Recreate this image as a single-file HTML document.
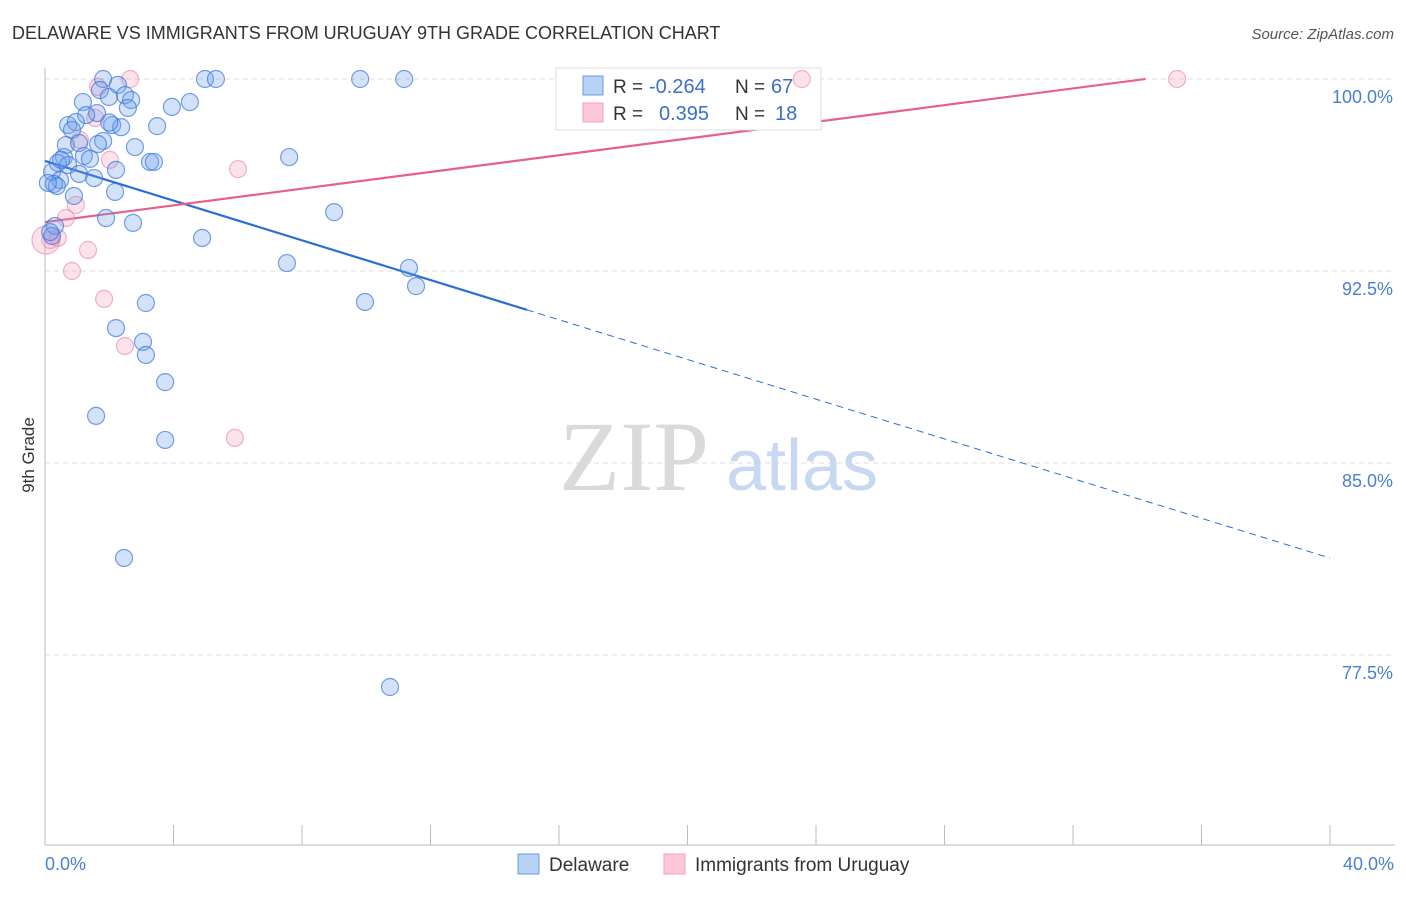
<!DOCTYPE html>
<html><head><meta charset="utf-8"><style>
body{margin:0;background:#fff;font-family:"Liberation Sans",sans-serif;}
svg text{font-family:"Liberation Sans",sans-serif;}
svg text.serif{font-family:"Liberation Serif",serif;}
</style></head><body>
<svg id="chart" width="1406" height="892" xmlns="http://www.w3.org/2000/svg">
<text x="12" y="39" font-size="18" fill="#333">DELAWARE VS IMMIGRANTS FROM URUGUAY 9TH GRADE CORRELATION CHART</text>
<text x="1394" y="39" font-size="15" fill="#555" font-style="italic" text-anchor="end">Source: ZipAtlas.com</text>
<g id="grid"></g>
<g><text class="serif" x="634" y="490" font-size="100" fill="#dadada" text-anchor="middle">ZIP</text><text x="802" y="490" font-size="72" fill="#c8d8f0" text-anchor="middle">atlas</text></g>
<g id="axes"></g>
<g id="lines"></g>
<g>
<rect x="556" y="68" width="265" height="62" fill="#fff" stroke="#ddd"/>
<rect x="583" y="76" width="20" height="19" fill="#b8d2f5" stroke="#6a9ae0"/>
<rect x="583" y="103" width="20" height="19" fill="#fcc8d8" stroke="#f0a0b8"/>
<text x="613" y="93" font-size="19" fill="#333">R =</text><text x="649" y="93" font-size="20" fill="#3a6fd0">-0.264</text>
<text x="735" y="93" font-size="19" fill="#333">N =</text><text x="771" y="93" font-size="20" fill="#3a6fd0">67</text>
<text x="613" y="120" font-size="19" fill="#333">R =</text><text x="659" y="120" font-size="20" fill="#3a6fd0">0.395</text>
<text x="735" y="120" font-size="19" fill="#333">N =</text><text x="775" y="120" font-size="20" fill="#3a6fd0">18</text>
</g>
<g id="points"></g>
<text transform="translate(34,455) rotate(-90)" font-size="17" fill="#333" text-anchor="middle">9th Grade</text>
<text x="45" y="870" font-size="18" fill="#4a7fd4">0.0%</text>
<text x="1394" y="870" font-size="18" fill="#4a7fd4" text-anchor="end">40.0%</text>
<g>
<rect x="518" y="854" width="21" height="20" fill="#b8d2f5" stroke="#6a9ae0"/>
<text x="549" y="871" font-size="19" fill="#333">Delaware</text>
<rect x="664" y="854" width="21" height="20" fill="#fcc8d8" stroke="#f0a0b8"/>
<text x="695" y="871" font-size="19" fill="#333">Immigrants from Uruguay</text>
</g>
</svg>
<script>
const yTicks=[100,92.5,85,77.5];
const yTickLabels=["100.0%","92.5%","85.0%","77.5%"];
const blueX=[1.81,2.27,4.98,5.32,9.81,11.18,1.71,2.49,2.68,1.18,4.51,3.95,2.58,1.62,1.28,0.72,0.96,2.09,2.37,3.49,0.84,1.81,0.65,1.06,2.80,1.65,0.59,1.21,1.40,3.27,3.39,7.60,0.40,0.72,2.21,0.22,1.06,1.53,0.47,0.28,0.37,2.18,0.90,9.00,1.90,2.74,0.31,0.22,4.89,7.53,11.33,11.55,3.14,9.96,2.21,3.05,3.14,3.74,1.59,3.74,2.46,10.74,0.16,0.50,1.99,0.09,2.0];
const blueY=[100,99.77,100,100,100,100,99.57,99.37,99.18,99.10,99.10,98.91,98.87,98.67,98.59,98.20,98.32,98.20,98.12,98.16,98.01,97.58,97.42,97.50,97.34,97.46,96.95,96.99,96.88,96.76,96.76,96.95,96.72,96.64,96.45,96.37,96.29,96.13,96.05,95.90,95.82,95.59,95.43,94.80,94.57,94.38,94.26,93.87,93.79,92.81,92.62,91.91,91.25,91.29,90.27,89.73,89.22,88.16,86.84,85.90,81.29,76.25,94.02,96.84,99.30,95.94,98.3];
const pinkX=[2.65,23.56,35.24,1.65,1.56,1.09,2.02,6.01,0.96,0.65,0.16,0.40,1.34,0.84,1.84,2.49,5.91,0.03];
const pinkY=[100,100,100,99.69,98.48,97.62,96.84,96.48,95.08,94.57,93.71,93.79,93.32,92.50,91.41,89.57,85.98,93.71];
const blueTrend=[96.8,-0.3878]; // intercept, slope
const pinkTrend=[94.41,0.1632];
const NS="http://www.w3.org/2000/svg";
const sx=v=>45+v/40*1285, sy=v=>79+(100-v)*25.6;
function mk(tag,attrs,parent){const e=document.createElementNS(NS,tag);for(const k in attrs)e.setAttribute(k,attrs[k]);document.getElementById(parent).appendChild(e);return e;}
yTicks.forEach((t,i)=>{
 const g=mk('line',{x1:45,x2:1395,y1:sy(t),y2:sy(t),stroke:'#ddd','stroke-dasharray':'5,4'},'grid');
 
 
 const l=mk('text',{x:1393,y:sy(t)+24,'font-size':18,fill:'#4a7fd4','text-anchor':'end'},'axes');
 l.textContent=yTickLabels[i];
 
 
});
const ax=mk('line',{x1:45,x2:1395,y1:845,y2:845,stroke:'#bbb'},'axes');


const ay=mk('line',{x1:45,x2:45,y1:68,y2:845,stroke:'#bbb'},'axes');


for(let i=0;i<=10;i++){const t=mk('line',{x1:sx(i*4),x2:sx(i*4),y1:825,y2:845,stroke:'#bbb'},'axes');
 
 }
const bEnd=15.0;
const b1=mk('line',{x1:sx(0),y1:sy(blueTrend[0]),x2:sx(bEnd),y2:sy(blueTrend[0]+blueTrend[1]*bEnd),stroke:'#2a6fd6','stroke-width':2.2},'lines');


const b2=mk('line',{x1:sx(bEnd),y1:sy(blueTrend[0]+blueTrend[1]*bEnd),x2:sx(40),y2:sy(blueTrend[0]+blueTrend[1]*40),stroke:'#2a6fd6','stroke-width':1,'stroke-dasharray':'7,5'},'lines');


const pEnd=(100-pinkTrend[0])/pinkTrend[1];
const p1=mk('line',{x1:sx(0),y1:sy(pinkTrend[0]),x2:sx(pEnd),y2:sy(100),stroke:'#e8608a','stroke-width':2.2},'lines');


pinkX.forEach((x,i)=>{const c=mk('circle',{cx:sx(x),cy:sy(pinkY[i]),r:i==pinkX.length-1?14:8.5,fill:'rgba(245,160,190,0.3)',stroke:'rgba(235,130,165,0.6)','stroke-width':1.2},'points');
 
 });
blueX.forEach((x,i)=>{const c=mk('circle',{cx:sx(x),cy:sy(blueY[i]),r:8.5,fill:'rgba(110,160,235,0.3)',stroke:'rgba(60,120,220,0.7)','stroke-width':1.2},'points');
 
 });
</script>
</body></html>
